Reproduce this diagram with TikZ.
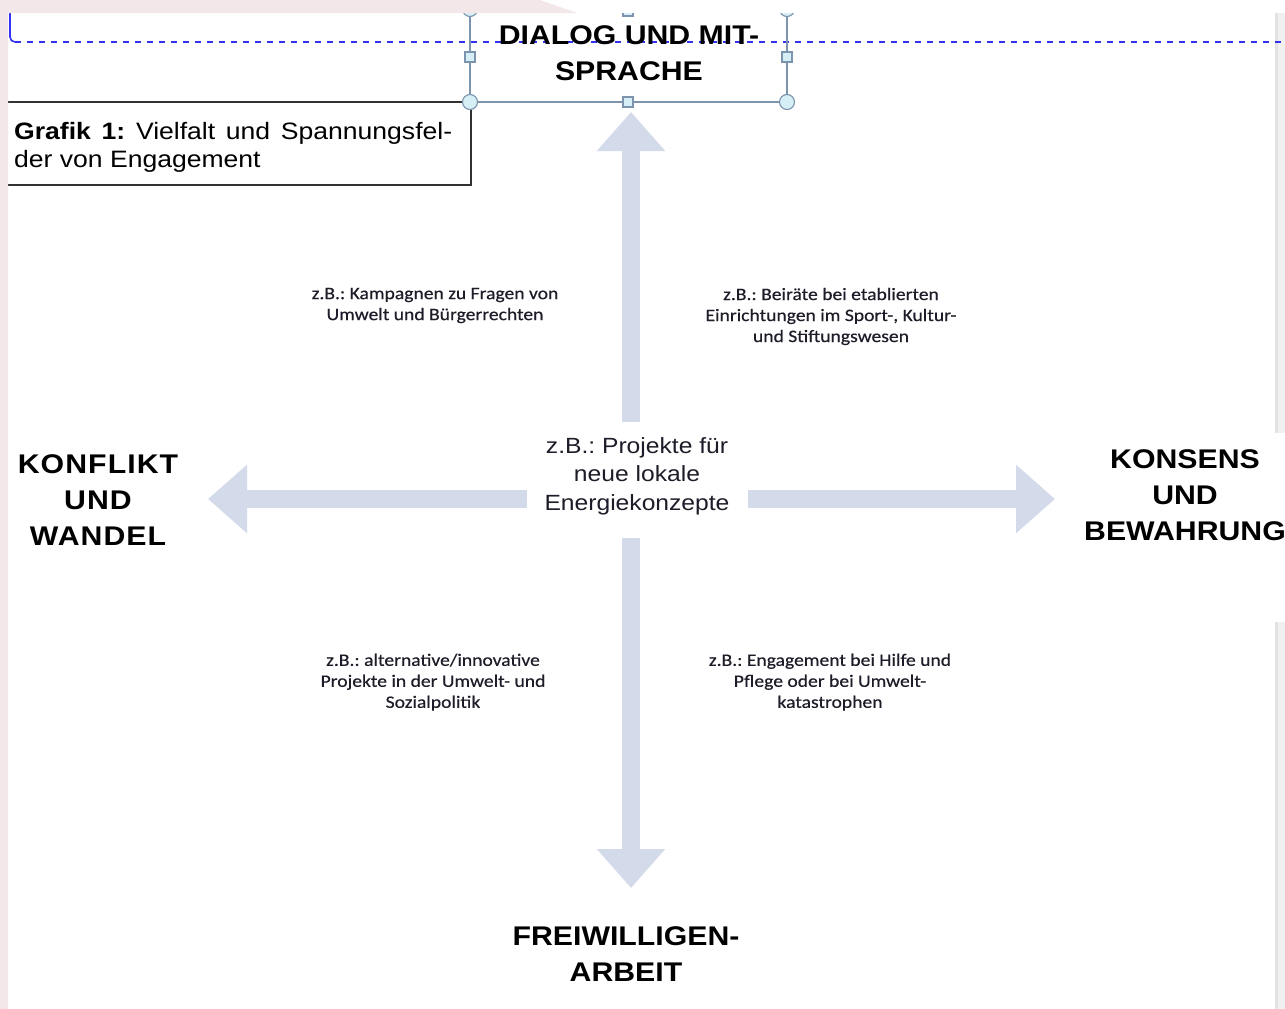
\documentclass[tikz,border=0pt]{standalone}
\usepackage{fontspec}
\setmainfont{Liberation Sans}
\newfontfamily\arialx{Liberation Sans}[FakeStretch=1.12]
\newfontfamily\calx{Carlito}[FakeStretch=1.12,FakeBold=0.4]
\usetikzlibrary{arrows.meta}
\frenchspacing
\definecolor{arrowc}{RGB}{211,218,233}
\definecolor{pinkbg}{RGB}{244,231,233}
\definecolor{stripc}{RGB}{240,240,240}
\definecolor{stripedge}{RGB}{226,226,226}
\definecolor{selc}{RGB}{125,148,174}
\definecolor{handlec}{RGB}{214,238,245}
\definecolor{dashblue}{RGB}{50,50,245}
\definecolor{txt}{RGB}{30,28,40}
\definecolor{boxc}{RGB}{50,50,50}
\tikzset{
  heading/.style={font=\arialx\fontsize{27}{36}\selectfont\bfseries, align=center, inner sep=0pt, anchor=north, text=black},
  example/.style={font=\calx\fontsize{17.5}{21}\selectfont, align=center, inner sep=0pt, anchor=north, text=txt},
  bigarrow/.style={draw=arrowc, line width=17.5pt, -{Triangle[width=66pt,length=39pt,fill=arrowc]}},
  handle/.style={fill=handlec, draw=selc, line width=1.1pt},
  selframe/.style={draw=selc, line width=1.5pt}
}
\begin{document}
\begin{tikzpicture}[x=1pt,y=-1pt]
\path[use as bounding box, clip] (0,0) rectangle (1285,1009);
\fill[white] (0,0) rectangle (1285,1009);
% right gray strip (page edge)
\fill[stripc] (1275,13) rectangle (1285,1009);
\fill[stripedge] (1275,13) rectangle (1277.5,1009);
\fill[white] (1270,433) rectangle (1285,622);

% center node
\node[minimum width=221pt, minimum height=116pt, inner sep=0pt, fill=white] (ctr) at (637.5,480) {};
\node[font=\arialx\fontsize{22}{28.5}\selectfont, align=center, inner sep=0pt, anchor=north, text=txt] (ctrtext) at (637,437) {z.B.: Projekte für\\neue lokale\\Energiekonzepte};

% arrow tips
\coordinate (tipN) at (631,112);
\coordinate (tipS) at (631,888);
\coordinate (tipW) at (208,499);
\coordinate (tipE) at (1055,499);
\draw[bigarrow] (ctr.north -| tipN) -- (tipN);
\draw[bigarrow] (ctr.south -| tipS) -- (tipS);
\draw[bigarrow] (ctr.west |- tipW) -- (tipW);
\draw[bigarrow] (ctr.east |- tipE) -- (tipE);

% blue dashed margin line
\draw[dashblue, line width=1.6pt] (10,13) -- (10,37) to[out=-90,in=180] (15,42);
\draw[dashblue, line width=1.8pt, dash pattern=on 6pt off 6pt] (15,42) -- (1285,42);

% Grafik box
\node[font=\arialx\fontsize{23.7}{28}\selectfont, align=left, inner sep=0pt, anchor=north west, text=black] (grafik) at (14,122.5)
  {\makebox[438pt][s]{\textbf{Grafik 1:} Vielfalt und Spannungsfel-}\\der von Engagement};
\draw[boxc, line width=1.6pt] (8,102) -- (471,102) -- (471,185) -- (8,185);

% selection frame round the top heading
\draw[selframe] (470,13) -- (470,102) -- (787,102) -- (787,13);
\filldraw[handle] (470,102) circle[radius=7.5pt];
\filldraw[handle] (787,102) circle[radius=7.5pt];
\filldraw[handle] (470,9) circle[radius=7.5pt];
\filldraw[handle] (787,9) circle[radius=7.5pt];
\filldraw[handle] (623,97) rectangle (633,107);
\filldraw[handle] (623,6) rectangle (633,16);
\filldraw[handle] (465,52) rectangle (475,62);
\filldraw[handle] (782,52) rectangle (792,62);

% headings
\node[heading] (dialog) at (629,25.7) {DIALOG UND MIT-\\SPRACHE};
\node[heading, font=\arialx\fontsize{27}{36}\selectfont\bfseries\addfontfeature{LetterSpace=4}] (konflikt) at (98,454) {KONFLIKT\\UND\\WANDEL};
\node[heading] (konsens) at (1185,449) {KONSENS\\UND\\BEWAHRUNG};
\node[heading] (frei) at (626,926) {FREIWILLIGEN-\\ARBEIT};

% examples
\node[example] (extl) at (435,287.7) {z.B.: Kampagnen zu Fragen von\\Umwelt und Bürgerrechten};
\node[example] (extr) at (831,287.7) {z.B.: Beiräte bei etablierten\\Einrichtungen im Sport-, Kultur-\\und Stiftungswesen};
\node[example] (exbl) at (433,653.5) {z.B.: alternative/innovative\\Projekte in der Umwelt- und\\Sozialpolitik};
\node[example] (exbr) at (830,653.5) {z.B.: Engagement bei Hilfe und\\Pflege oder bei Umwelt-\\katastrophen};

% window edges at top and left
\fill[white] (0,0) rectangle (1285,13);
\fill[pinkbg] (0,0) -- (540,0) -- (577,13) -- (8,13) -- (8,1009) -- (0,1009) -- cycle;
\end{tikzpicture}
\end{document}
